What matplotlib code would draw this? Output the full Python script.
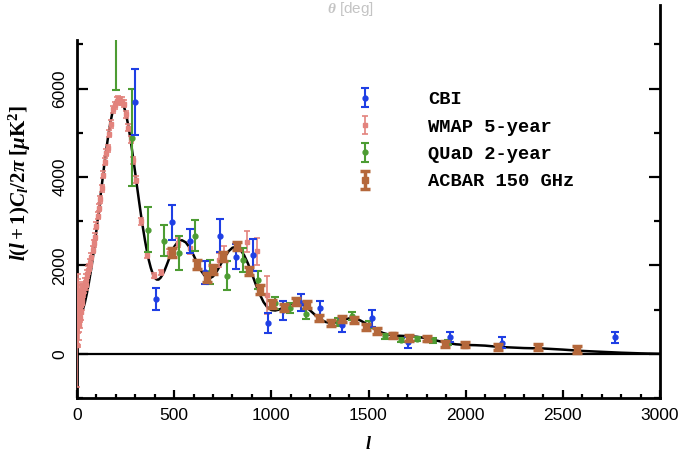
import matplotlib
matplotlib.use("Agg")
import matplotlib.pyplot as plt

plt.rcParams["font.family"] = ["Liberation Sans", "DejaVu Sans"]
plt.rcParams["mathtext.fontset"] = "custom"
plt.rcParams["mathtext.rm"] = "Liberation Serif:bold"
plt.rcParams["mathtext.it"] = "Liberation Serif:italic:bold"
plt.rcParams["mathtext.bf"] = "Liberation Serif:bold"

# theory curve
theory_l = [2, 5, 10, 15, 20, 30, 40, 50, 60, 70, 80, 90, 100, 110, 120, 130, 140, 150,
            160, 170, 180, 190, 200, 210, 220, 230, 240, 250, 260, 270, 280, 290, 300,
            310, 320, 330, 340, 350, 360, 370, 380, 390, 400, 410, 420, 430, 440, 450,
            460, 480, 500, 520, 540, 560, 580, 600, 620, 640, 660, 680, 700, 720, 740,
            760, 780, 800, 820, 840, 860, 880, 900, 920, 940, 960, 980, 1000, 1020, 1040,
            1060, 1080, 1100, 1120, 1140, 1160, 1180, 1200, 1220, 1240, 1260, 1280, 1300,
            1320, 1340, 1360, 1380, 1400, 1420, 1440, 1460, 1480, 1500, 1525, 1550, 1575,
            1600, 1650, 1700, 1750, 1800, 1850, 1900, 1950, 2000, 2050, 2100, 2150, 2200,
            2300, 2400, 2500, 2600, 2700, 2800, 2900, 3000]
theory_v = [1050, 880, 800, 830, 880, 1000, 1150, 1350, 1580, 1840, 2130, 2450, 2800, 3160,
            3530, 3900, 4260, 4600, 4910, 5180, 5410, 5590, 5710, 5770, 5780, 5730, 5620,
            5460, 5250, 5000, 4710, 4400, 4080, 3750, 3430, 3120, 2830, 2560, 2320, 2110,
            1940, 1810, 1720, 1680, 1680, 1720, 1790, 1880, 1990, 2220, 2420, 2540, 2570,
            2520, 2400, 2230, 2040, 1870, 1750, 1700, 1750, 1870, 2030, 2190, 2320, 2400,
            2420, 2360, 2230, 2040, 1810, 1570, 1350, 1170, 1050, 990, 980, 1000, 1040,
            1090, 1130, 1150, 1150, 1120, 1060, 980, 900, 820, 760, 720, 700, 700, 720, 750,
            780, 800, 805, 790, 750, 700, 640, 580, 520, 470, 440, 410, 400, 385, 350, 300,
            250, 215, 200, 195, 185, 165, 150, 130, 120, 95, 65, 45, 25, 10, 0]

wmap_l = [2, 3, 4, 5, 6, 7, 8, 9, 10, 11, 12, 13, 14, 15, 16, 17, 18, 19, 20, 22, 24, 26,
          28, 30, 33, 36, 40, 44, 48, 53, 58, 63, 68, 74, 80, 86, 93, 100, 106, 112, 120,
          128, 135, 143, 150, 158, 166, 175, 187, 197, 206, 213, 221, 230, 240, 252, 264,
          276, 290, 304, 329, 362, 398, 432, 473, 520, 581, 732, 758, 876, 928, 976]
wmap_v = [200, 1000, 750, 1200, 900, 1250, 650, 1000, 780, 1100, 880, 1350, 950, 1150, 800,
          1050, 1250, 950, 1100, 1300, 1150, 1400, 1250, 1450, 1400, 1500, 1600, 1550, 1700,
          1800, 1900, 1950, 2050, 2200, 2350, 2500, 2650, 2900, 3120, 3300, 3500, 3750, 4050,
          4350, 4550, 4650, 4980, 5200, 5530, 5620, 5730, 5760, 5720, 5720, 5660, 5420, 5120,
          4850, 4380, 3940, 3000, 2240, 1770, 1840, 2290, 2510, 2400, 2130, 2250, 2540, 2320,
          1340]
wmap_e = [950, 800, 600, 500, 420, 380, 340, 300, 280, 260, 250, 240, 230, 220, 210, 200,
          190, 185, 180, 170, 160, 150, 140, 130, 120, 115, 110, 105, 100, 95, 90, 85, 85, 80,
          80, 80, 80, 80, 80, 80, 80, 80, 80, 80, 80, 80, 80, 80, 80, 80, 80, 80, 80, 80, 80,
          80, 80, 80, 80, 80, 80, 70, 60, 60, 80, 100, 140, 160, 180, 240, 300, 430]

cbi_l = [300, 405, 487, 581, 659, 736, 818, 904, 985, 1062, 1151, 1248, 1362, 1516, 1705,
         1919, 2185, 2767]
cbi_v = [5690, 1246, 2974, 2550, 1840, 2670, 2200, 2230, 700, 980, 1160, 1035, 650, 800,
         260, 378, 255, 370]
cbi_e = [750, 245, 400, 280, 260, 370, 280, 360, 230, 225, 200, 170, 150, 190, 120, 113,
         125, 125]

quad_l = [201, 281, 364, 446, 527, 607, 684, 770, 853, 933, 1017, 1096, 1177, 1341, 1417,
          1504, 1585, 1666, 1748, 1831, 1911]
quad_v = [7300, 4890, 2808, 2563, 2280, 2676, 1850, 1770, 2118, 1676, 1148, 1035, 899, 710,
          846, 657, 393, 317, 340, 302, 256]
quad_e = [1320, 1100, 510, 360, 390, 360, 265, 320, 275, 200, 130, 120, 110, 90, 90, 80,
          60, 50, 50, 50, 50]

acbar_l = [490, 616, 670, 702, 752, 824, 884, 940, 1005, 1065, 1125, 1184, 1247, 1307, 1365,
           1425, 1489, 1545, 1624, 1710, 1803, 1894, 1997, 2168, 2374, 2571]
acbar_v = [2295, 2016, 1730, 1910, 2210, 2440, 1875, 1458, 1120, 1058, 1185, 1110, 808, 695,
           786, 762, 612, 521, 415, 355, 340, 219, 204, 151, 151, 98]
acbar_e = [110, 100, 100, 100, 100, 100, 100, 100, 90, 80, 80, 80, 70, 70, 70, 70, 70, 70,
           60, 60, 60, 60, 60, 60, 70, 70]

legend_order = ["CBI", "WMAP 5-year", "QUaD 2-year", "ACBAR 150 GHz"]

BLUE = "#1f3fe4"
PINK = "#e3837d"
GREEN = "#4d9c33"
BROWN = "#b5683b"

fig = plt.figure(figsize=(6.93, 4.53), dpi=100)
ax = fig.add_axes([77 / 693, 55 / 453, 583 / 693, 358 / 453])

ax.axhline(0, color="black", lw=1.6, zorder=1)
ax.plot(theory_l, theory_v, color="black", lw=1.8, zorder=2)

ax.errorbar(wmap_l, wmap_v, yerr=wmap_e, fmt="s", ms=3.5, color=PINK, ecolor=PINK,
            elinewidth=1.2, capsize=2.5, capthick=1.2, label="WMAP 5-year", zorder=3)
ax.errorbar(quad_l, quad_v, yerr=quad_e, fmt="o", ms=3.5, color=GREEN, ecolor=GREEN,
            elinewidth=1.5, capsize=3, capthick=1.5, label="QUaD 2-year", zorder=4)
ax.errorbar(cbi_l, cbi_v, yerr=cbi_e, fmt="o", ms=3.5, color=BLUE, ecolor=BLUE,
            elinewidth=1.5, capsize=3, capthick=1.5, label="CBI", zorder=5)
ax.errorbar(acbar_l, acbar_v, yerr=acbar_e, fmt="s", ms=5, color=BROWN, ecolor=BROWN,
            elinewidth=2.5, capsize=3.5, capthick=2.5, label="ACBAR 150 GHz", zorder=6)

ax.set_xlim(0, 3000)
ax.set_ylim(-1000, 7100)
ax.set_xticks(range(0, 3001, 500))
ax.set_xticks(range(0, 3001, 100), minor=True)
ax.set_yticks([0, 2000, 4000, 6000])
ax.set_yticks([-1000, 1000, 3000, 5000, 7000], minor=True)

ax.tick_params(which="both", direction="in", width=1.6, colors="black")
ax.tick_params(axis="x", which="major", length=6, labelsize=12.5, pad=7)
ax.tick_params(axis="x", which="minor", length=3)
ax.tick_params(axis="y", which="major", length=8, labelsize=12.5, pad=7, right=True)
ax.tick_params(axis="y", which="minor", length=4, right=True)
for lab in ax.get_yticklabels():
    lab.set_rotation(90)
    lab.set_va("center")

ax.spines["top"].set_visible(False)
for s in ("left", "bottom", "right"):
    ax.spines[s].set_linewidth(2)
ax.spines["right"].set_bounds(-1000, 7900)

ax.set_ylabel(r"$l(l+1)C_l/2\pi\ [\mu \mathrm{K}^2]$", fontsize=15)
ax.yaxis.set_label_coords(-0.075, 0.6)
ax.text(0.5, -0.105, r"$l$", transform=ax.transAxes, ha="center", va="top", fontsize=13)

hmap = dict(zip(*ax.get_legend_handles_labels()[::-1]))
ax.legend([hmap[k] for k in legend_order], legend_order,
          loc="upper left", bbox_to_anchor=((353 - 77) / 583, (398 - 91) / 358),
          frameon=False, handlelength=1.3, handletextpad=2.7, labelspacing=0.55,
          borderaxespad=0, borderpad=0,
          prop={"family": "Liberation Mono", "weight": "bold", "size": 13.5})

# faint label of a neighbouring panel, cropped at the top in the source
fig.text(350 / 693, 0.999, r"$\theta$ [deg]", color="#c4c4c4", ha="center", va="top",
         fontsize=11)

fig.savefig("out.png", dpi=100)
